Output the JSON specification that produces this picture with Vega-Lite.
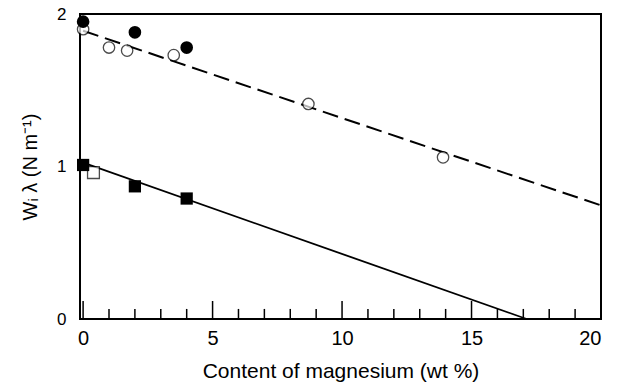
{
  "$schema": "https://vega.github.io/schema/vega-lite/v6.json",
  "width": 521,
  "height": 305,
  "autosize": {"type": "none"},
  "padding": {"left": 80, "top": 14, "right": 27, "bottom": 67},
  "config": {
    "view": {"stroke": "black", "strokeWidth": 2},
    "font": "Liberation Sans"
  },
  "datasets": {
    "pts": [
      {"x": 0, "y": 1.95, "series": "filled circle"},
      {"x": 2, "y": 1.88, "series": "filled circle"},
      {"x": 4, "y": 1.78, "series": "filled circle"},
      {"x": 0, "y": 1.90, "series": "open circle"},
      {"x": 1.0, "y": 1.78, "series": "open circle"},
      {"x": 1.7, "y": 1.76, "series": "open circle"},
      {"x": 3.5, "y": 1.73, "series": "open circle"},
      {"x": 8.7, "y": 1.41, "series": "open circle"},
      {"x": 13.9, "y": 1.06, "series": "open circle"},
      {"x": 0, "y": 1.01, "series": "filled square"},
      {"x": 2, "y": 0.87, "series": "filled square"},
      {"x": 4, "y": 0.79, "series": "filled square"},
      {"x": 0.4, "y": 0.96, "series": "open square"}
    ],
    "fits": [
      {"x": 0, "y": 1.89, "fit": "dashed"},
      {"x": 20, "y": 0.745, "fit": "dashed"},
      {"x": 0, "y": 1.025, "fit": "solid"},
      {"x": 17.13, "y": 0, "fit": "solid"}
    ],
    "minorTicks": [
      {"x": 1}, {"x": 2}, {"x": 3}, {"x": 4}, {"x": 6}, {"x": 7}, {"x": 8}, {"x": 9},
      {"x": 11}, {"x": 12}, {"x": 13}, {"x": 14}, {"x": 16}, {"x": 17}, {"x": 18}, {"x": 19}
    ],
    "majorTicks": [
      {"x": 0}, {"x": 5}, {"x": 10}, {"x": 15}, {"x": 20}
    ]
  },
  "layer": [
    {
      "data": {"name": "minorTicks"},
      "mark": {"type": "rule", "color": "black", "strokeWidth": 1.5},
      "encoding": {
        "x": {"field": "x", "type": "quantitative", "scale": {"domain": [-0.12, 20], "nice": false, "zero": false},
          "axis": {"values": [0, 5, 10, 15, 20], "format": ".0f", "labels": true, "labelOverlap": false, "labelFontSize": 20, "labelColor": "black", "labelPadding": 9, "title": "Content of magnesium (wt %)", "titleFontSize": 21, "titleFontWeight": "normal", "titleColor": "black", "titlePadding": 12, "domain": false, "grid": false, "ticks": false, "orient": "bottom"}},
        "y": {"datum": 0, "type": "quantitative", "scale": {"domain": [0, 2], "nice": false},
          "axis": {"values": [0, 1, 2], "format": ".0f", "labelOverlap": false, "ticks": false, "domain": false, "grid": false, "labelFontSize": 17, "labelColor": "black", "labelPadding": 14,
            "title": "Wᵢ λ (N m⁻¹)", "titleFontSize": 20, "titleFontWeight": "normal", "titleColor": "black", "titlePadding": 16}},
        "y2": {"datum": 0.066}
      }
    },
    {
      "data": {"name": "majorTicks"},
      "mark": {"type": "rule", "color": "black", "strokeWidth": 1.5},
      "encoding": {
        "x": {"field": "x", "type": "quantitative"},
        "y": {"datum": 0, "type": "quantitative"},
        "y2": {"datum": 0.118}
      }
    },
    {
      "data": {"name": "fits"},
      "transform": [{"filter": "datum.fit === 'dashed'"}],
      "mark": {"type": "line", "color": "black", "strokeWidth": 2, "strokeDash": [16, 7]},
      "encoding": {
        "x": {"field": "x", "type": "quantitative"},
        "y": {"field": "y", "type": "quantitative"}
      }
    },
    {
      "data": {"name": "fits"},
      "transform": [{"filter": "datum.fit === 'solid'"}],
      "mark": {"type": "line", "color": "black", "strokeWidth": 1.8},
      "encoding": {
        "x": {"field": "x", "type": "quantitative"},
        "y": {"field": "y", "type": "quantitative"}
      }
    },
    {
      "data": {"name": "pts"},
      "transform": [{"filter": "datum.series === 'open circle'"}],
      "mark": {"type": "point", "shape": "circle", "size": 130, "filled": true, "fill": "white", "stroke": "black", "strokeWidth": 1.3},
      "encoding": {
        "x": {"field": "x", "type": "quantitative"},
        "y": {"field": "y", "type": "quantitative"}
      }
    },
    {
      "data": {"name": "pts"},
      "transform": [{"filter": "datum.series === 'open square'"}],
      "mark": {"type": "point", "shape": "square", "size": 140, "filled": true, "fill": "white", "stroke": "black", "strokeWidth": 1.3},
      "encoding": {
        "x": {"field": "x", "type": "quantitative"},
        "y": {"field": "y", "type": "quantitative"}
      }
    },
    {
      "data": {"name": "pts"},
      "transform": [{"filter": "datum.series === 'filled circle'"}],
      "mark": {"type": "point", "shape": "circle", "size": 160, "filled": true, "color": "black", "opacity": 1},
      "encoding": {
        "x": {"field": "x", "type": "quantitative"},
        "y": {"field": "y", "type": "quantitative"}
      }
    },
    {
      "data": {"name": "pts"},
      "transform": [{"filter": "datum.series === 'filled square'"}],
      "mark": {"type": "point", "shape": "square", "size": 150, "filled": true, "color": "black", "opacity": 1},
      "encoding": {
        "x": {"field": "x", "type": "quantitative"},
        "y": {"field": "y", "type": "quantitative"}
      }
    }
  ]
}
